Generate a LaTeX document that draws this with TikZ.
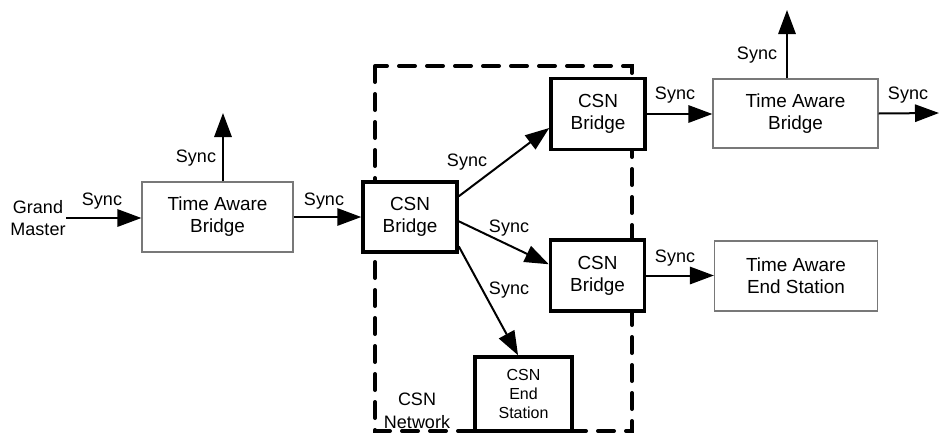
\documentclass[tikz,border=0pt]{standalone}
\usepackage{fontspec}
\setmainfont{Liberation Sans}
\usetikzlibrary{arrows.meta}

\tikzset{every picture/.style={line width=0.75pt}}
\tikzset{
  plainbox/.style={draw={rgb, 255:red, 120; green, 120; blue, 120 }, fill=white, line width=0.9pt, align=center, inner sep=0pt, font=\fontsize{14.2}{16.5}\selectfont},
  csnbox/.style={draw=black, fill=white, line width=2.6pt, align=center, inner sep=0pt, font=\fontsize{14.2}{16.5}\selectfont},
  syncarrow/.style={line width=1.5pt, -{Triangle[length=18pt,width=13pt]}},
  synclabel/.style={inner sep=0pt, align=center, font=\fontsize{13.5}{17}\selectfont},
  netframe/.style={line width=3pt, line cap=round, dash pattern=on 12pt off 9pt}
}

\begin{document}
\begin{tikzpicture}[x=0.75pt,y=0.75pt,yscale=-1,xscale=1]
\useasboundingbox (0,0) rectangle (940,433);

%Dashed frame of the CSN network
\draw [netframe] (375,66) rectangle (632,431) ;

% Boxes
\node [plainbox, minimum width=113.25pt, minimum height=52.5pt] (tab1) at (217.5,217) {Time Aware\\Bridge};
\node [csnbox, minimum width=70.5pt, minimum height=52.5pt] (csn1) at (410,217) {CSN\\Bridge};
\node [csnbox, minimum width=70.5pt, minimum height=53.25pt] (csn2) at (598,114) {CSN\\Bridge};
\node [plainbox, minimum width=123.75pt, minimum height=51.75pt] (tab2) at (795.5,113.5) {Time Aware\\Bridge};
\node [csnbox, minimum width=70.5pt, minimum height=53.25pt] (csn3) at (597.5,275.5) {CSN\\Bridge};
\node [plainbox, minimum width=122.25pt, minimum height=52.5pt] (taes) at (796,276) {Time Aware\\End Station};
\node [csnbox, minimum width=72.75pt, minimum height=55.5pt, font=\fontsize{12}{14.5}\selectfont] (csnes) at (523.5,394) {CSN\\End\\Station};

% Text Node
\node [synclabel] (gm) at (38,218) {Grand\\Master};
% Text Node
\node [synclabel] (netlabel) at (417,411) {CSN\\Network};

% Free ends
\coordinate (tab1up) at (223,113);
\coordinate (tab2up) at (787,10);
\coordinate (tab2out) at (939,113);

% Connectors
\draw [syncarrow] (gm.east) -- (gm.east -| tab1.west) ;
\draw [syncarrow] (tab1.north -| tab1up) -- (tab1up) ;
\draw [syncarrow] (tab1.east) -- (csn1.west) ;
\draw [syncarrow] (csn1.23) -- (csn2.196) ;
\draw [syncarrow] (csn1.-5) -- (csn3.167) ;
\draw [syncarrow] (csn1.-31) -- (csnes.98) ;
\draw [syncarrow] (csn2.east) -- (csn2.east -| tab2.west) ;
\draw [syncarrow] (tab2.north -| tab2up) -- (tab2up) ;
\draw [syncarrow] (tab2.east) -- (tab2out) ;
\draw [syncarrow] (csn3.east) -- (csn3.east -| taes.west) ;

% Sync labels
\node [synclabel] (s1) at (102,201) {Sync};
\node [synclabel] (s2) at (196,158) {Sync};
\node [synclabel] (s3) at (324,201) {Sync};
\node [synclabel] (s4) at (467,162) {Sync};
\node [synclabel] (s5) at (509,228) {Sync};
\node [synclabel] (s6) at (509,290) {Sync};
\node [synclabel] (s7) at (675,95) {Sync};
\node [synclabel] (s8) at (757,55) {Sync};
\node [synclabel] (s9) at (908,95) {Sync};
\node [synclabel] (s10) at (675,258) {Sync};

\end{tikzpicture}
\end{document}
